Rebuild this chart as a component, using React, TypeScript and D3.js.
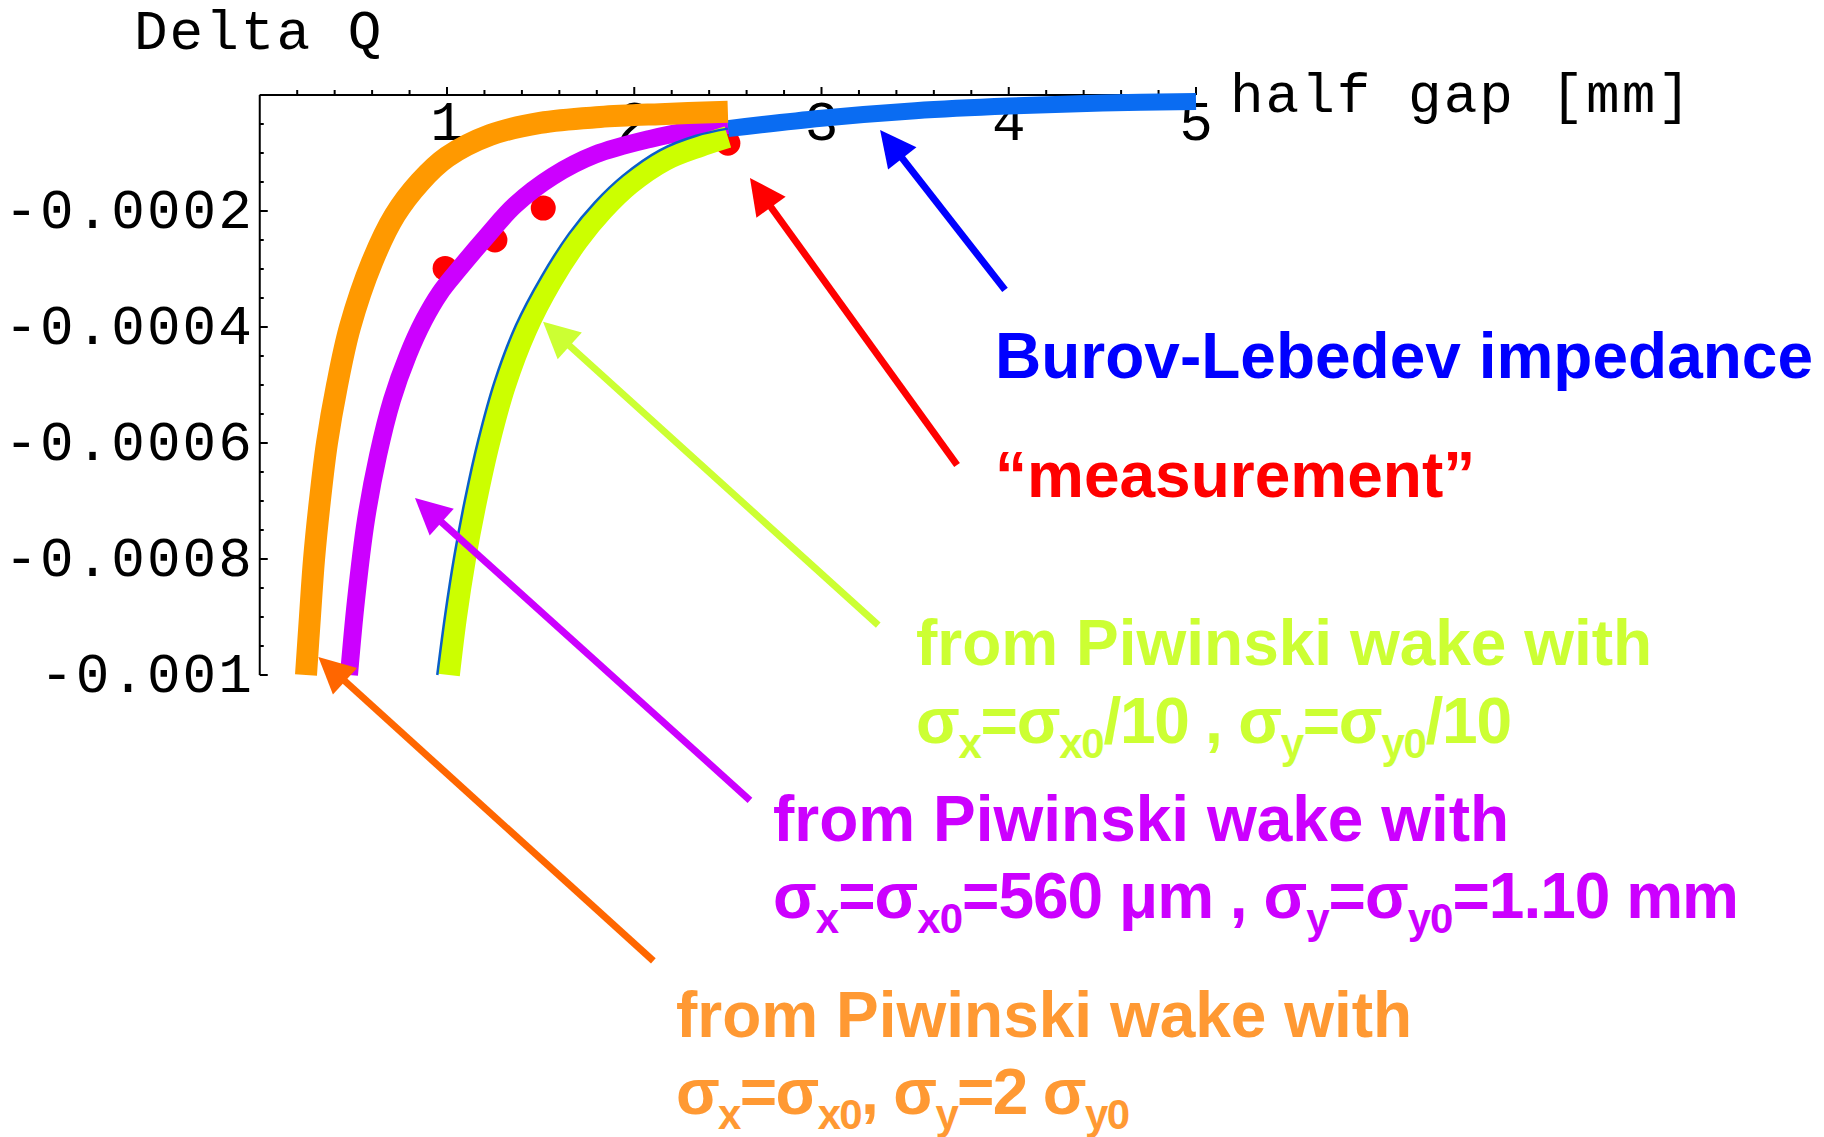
import React from 'react';
import * as d3 from 'd3';

const W = 1824;
const H = 1137;

// axis ticks
const xTickValues = [1, 2, 3, 4, 5];
const yTickValues = [-0.0002, -0.0004, -0.0006, -0.0008, -0.001];
const yTickLabels = ['-0.0002', '-0.0004', '-0.0006', '-0.0008', '-0.001'];

// Piwinski wake, sigma_x = sigma_x0, sigma_y = 2 sigma_y0 (orange)
const orangeX = [0.247, 0.268, 0.29, 0.321, 0.359, 0.413, 0.482, 0.60, 0.722, 0.856, 1.0, 1.23, 1.497, 1.817, 2.137, 2.5];
const orangeY = [-0.001, -0.0009, -0.0008, -0.0007, -0.0006, -0.0005, -0.0004, -0.000288, -0.000207, -0.00015, -0.000107, -0.000069, -0.000048, -0.000038, -0.000033, -0.000029];

// Piwinski wake, sigma = sigma0 (magenta)
const magentaX = [0.4766, 0.514, 0.567, 0.632, 0.706, 0.792, 0.877, 0.963, 1.059, 1.2136, 1.363, 1.566, 1.79, 2.084, 2.351, 2.5];
const magentaY = [-0.001, -0.000871, -0.000733, -0.000621, -0.000526, -0.000448, -0.000388, -0.000341, -0.000302, -0.000243, -0.00019, -0.00014, -0.000103, -0.0000759, -0.0000586, -0.0000517];

// Piwinski wake, sigma = sigma0/10 (green)
const greenX = [1.01, 1.048, 1.096, 1.155, 1.224, 1.31, 1.422, 1.555, 1.7, 1.833, 1.978, 2.165, 2.352, 2.5];
const greenY = [-0.001, -0.0009, -0.0008, -0.0007, -0.0006, -0.0005, -0.000405, -0.000322, -0.00025, -0.000198, -0.000153, -0.000112, -0.000088, -0.0000724];

// Burov-Lebedev impedance (blue)
const blueX = [0.948, 0.99, 1.038, 1.097, 1.167, 1.254, 1.368, 1.505, 1.652, 1.79, 1.94, 2.136, 2.331, 2.5, 3.0, 3.5, 4.0, 4.5, 5.0];
const blueY = [-0.001, -0.000897, -0.000797, -0.000696, -0.000595, -0.000494, -0.000397, -0.000313, -0.000239, -0.000185, -0.000139, -0.0000953, -0.0000702, -0.000058, -0.00004, -0.000027, -0.000019, -0.000014, -0.000011];

// "measurement"
const measX = [0.99, 1.256, 1.514, 2.5];
const measY = [-0.000299, -0.00025, -0.000195, -0.000083];

const SANS = '"Liberation Sans", Arial, Helvetica, sans-serif';
const MONO = '"Liberation Mono", "Courier New", Courier, monospace';

type Seg = { t: string; sub?: boolean };

function RichText({ x, y, segs, fill, size = 64, subSize = 42, subDy = 15, len }: { x: number; y: number; segs: Seg[]; fill: string; size?: number; subSize?: number; subDy?: number; len?: number }) {
  let inSub = false;
  const extra = len ? { textLength: len, lengthAdjust: 'spacing' } : {};
  return (
    <text x={x} y={y} fill={fill} fontFamily={SANS} fontWeight="bold" fontSize={size} {...extra}>
      {segs.map((s, i) => {
        let dy = 0;
        if (s.sub && !inSub) dy = subDy;
        if (!s.sub && inSub) dy = -subDy;
        inSub = !!s.sub;
        return (
          <tspan key={i} dy={dy} fontSize={s.sub ? subSize : size}>
            {s.t}
          </tspan>
        );
      })}
    </text>
  );
}

function Arrow({ tip, tail, color, width = 7, headLen = 36, headHalf = 18 }: { tip: [number, number]; tail: [number, number]; color: string; width?: number; headLen?: number; headHalf?: number }) {
  const dx = tip[0] - tail[0];
  const dy = tip[1] - tail[1];
  const L = Math.hypot(dx, dy);
  const ux = dx / L, uy = dy / L;
  const bx = tip[0] - ux * headLen, by = tip[1] - uy * headLen;
  const px = -uy, py = ux;
  const pts = [
    [tip[0], tip[1]],
    [bx + px * headHalf, by + py * headHalf],
    [bx - px * headHalf, by - py * headHalf],
  ];
  return (
    <g>
      <line x1={tail[0]} y1={tail[1]} x2={bx + ux * 4} y2={by + uy * 4} stroke={color} strokeWidth={width} />
      <polygon points={pts.map((p) => p.join(',')).join(' ')} fill={color} />
    </g>
  );
}

export default function App() {
  const x = d3.scaleLinear().domain([0, 5]).range([259.75, 1196]);
  const y = d3.scaleLinear().domain([0, -0.001]).range([95, 675]);

  const line = d3
    .line<[number, number]>()
    .x((d) => x(d[0]))
    .y((d) => y(d[1]))
    .curve(d3.curveCatmullRom.alpha(0.5));

  const zip = (xs: number[], ys: number[]) => xs.map((v, i) => [v, ys[i]] as [number, number]);

  const orange = zip(orangeX, orangeY);
  const magenta = zip(magentaX, magentaY);
  const green = zip(greenX, greenY);
  const blue = zip(blueX, blueY);
  const blueThin = blue.filter((d) => d[0] <= 2.5);
  const blueThick = blue.filter((d) => d[0] >= 2.5);
  const meas = zip(measX, measY);

  const xMinor = d3.range(1, 26).map((i) => i * 0.2);
  const yMinor = d3.range(0, 21).map((i) => -i * 0.00005);

  // annotation arrows, positioned in data coordinates
  const px = (d: [number, number]) => [x(d[0]), y(d[1])] as [number, number];
  const arrows = [
    { tip: [3.313, -0.0000603], tail: [3.98, -0.000336], color: '#0000FF' },
    { tip: [2.618, -0.0001431], tail: [3.724, -0.000638], color: '#FF0000' },
    { tip: [1.513, -0.000391], tail: [3.303, -0.000914], color: '#CCFF33' },
    { tip: [0.829, -0.000695], tail: [2.618, -0.001216], color: '#CC00FF' },
    { tip: [0.313, -0.000969], tail: [2.102, -0.001493], color: '#FF6600' },
  ] as { tip: [number, number]; tail: [number, number]; color: string }[];

  return (
    <svg
      width={W}
      height={H}
      viewBox={`0 0 ${W} ${H}`}
      style={{ position: 'absolute', left: 0, top: 0, display: 'block', background: '#fff' }}
    >
      <rect x={0} y={0} width={W} height={H} fill="#fff" />

      {/* axes */}
      <g stroke="#000" strokeWidth={2} fill="none">
        <line x1={x(0)} y1={y(0)} x2={x(5)} y2={y(0)} />
        <line x1={x(0)} y1={y(0)} x2={x(0)} y2={y(-0.001)} />
        {xMinor.map((v, i) => {
          const major = Math.abs(v - Math.round(v)) < 1e-6;
          return <line key={'xt' + i} x1={x(v)} x2={x(v)} y1={y(0)} y2={y(0) - (major ? 8 : 5)} />;
        })}
        {yMinor.map((v, i) => {
          const major = Math.abs(v / 0.0002 - Math.round(v / 0.0002)) < 1e-6;
          return <line key={'yt' + i} x1={x(0)} x2={x(0) + (major ? 8 : 4)} y1={y(v)} y2={y(v)} />;
        })}
      </g>

      <g fontFamily={MONO} fontSize={56} fill="#000" letterSpacing={2}>
        {xTickValues.map((v) => (
          <text key={'xl' + v} x={x(v) + 1} y={y(0) + 45} textAnchor="middle">
            {v}
          </text>
        ))}
        {yTickValues.map((v, i) => (
          <text key={'yl' + i} x={x(0) - 6} y={y(v) + 17} textAnchor="end">
            {yTickLabels[i]}
          </text>
        ))}
        <text x={134} y={49}>Delta Q</text>
        <text x={1230} y={112}>half gap [mm]</text>
      </g>

      {/* measurement points */}
      <g fill="#FF0000">
        {meas.map((d, i) => (
          <circle key={'m' + i} cx={x(d[0])} cy={y(d[1])} r={12.5} />
        ))}
      </g>

      {/* curves */}
      <path d={line(blueThick) || ''} stroke="#0A6CF2" strokeWidth={17} fill="none" />
      <path d={line(magenta) || ''} stroke="#CC00FF" strokeWidth={18} fill="none" />
      <path d={line(green) || ''} stroke="#CCFF00" strokeWidth={22} fill="none" />
      <path d={line(blueThin) || ''} stroke="#0A5FC8" strokeWidth={2.5} fill="none" />
      <path d={line(orange) || ''} stroke="#FF9900" strokeWidth={22} fill="none" />

      {/* annotation arrows */}
      {arrows.map((a, i) => (
        <Arrow key={'a' + i} tip={px(a.tip)} tail={px(a.tail)} color={a.color} />
      ))}

      {/* annotation texts */}
      <RichText x={995} y={378} fill="#0000FF" segs={[{ t: 'Burov-Lebedev impedance' }]} />
      <RichText x={995} y={497} fill="#FF0000" segs={[{ t: '\u201Cmeasurement\u201D' }]} />

      <RichText x={916} y={665} fill="#CCFF33" segs={[{ t: 'from Piwinski wake with' }]} />
      <RichText
        x={916}
        y={743}
        fill="#CCFF33"
        len={596}
        segs={[
          { t: '\u03C3' }, { t: 'x', sub: true }, { t: '=\u03C3' }, { t: 'x0', sub: true },
          { t: '/10 , \u03C3' }, { t: 'y', sub: true }, { t: '=\u03C3' }, { t: 'y0', sub: true }, { t: '/10' },
        ]}
      />

      <RichText x={773} y={841} fill="#CC00FF" segs={[{ t: 'from Piwinski wake with' }]} />
      <RichText
        x={773}
        y={918}
        fill="#CC00FF"
        len={966}
        segs={[
          { t: '\u03C3' }, { t: 'x', sub: true }, { t: '=\u03C3' }, { t: 'x0', sub: true },
          { t: '=560 \u03BCm , \u03C3' }, { t: 'y', sub: true }, { t: '=\u03C3' }, { t: 'y0', sub: true }, { t: '=1.10 mm' },
        ]}
      />

      <RichText x={676} y={1037} fill="#FF9933" segs={[{ t: 'from Piwinski wake with' }]} />
      <RichText
        x={676}
        y={1114}
        fill="#FF9933"
        len={454}
        segs={[
          { t: '\u03C3' }, { t: 'x', sub: true }, { t: '=\u03C3' }, { t: 'x0', sub: true },
          { t: ', \u03C3' }, { t: 'y', sub: true }, { t: '=2 \u03C3' }, { t: 'y0', sub: true },
        ]}
      />
    </svg>
  );
}
